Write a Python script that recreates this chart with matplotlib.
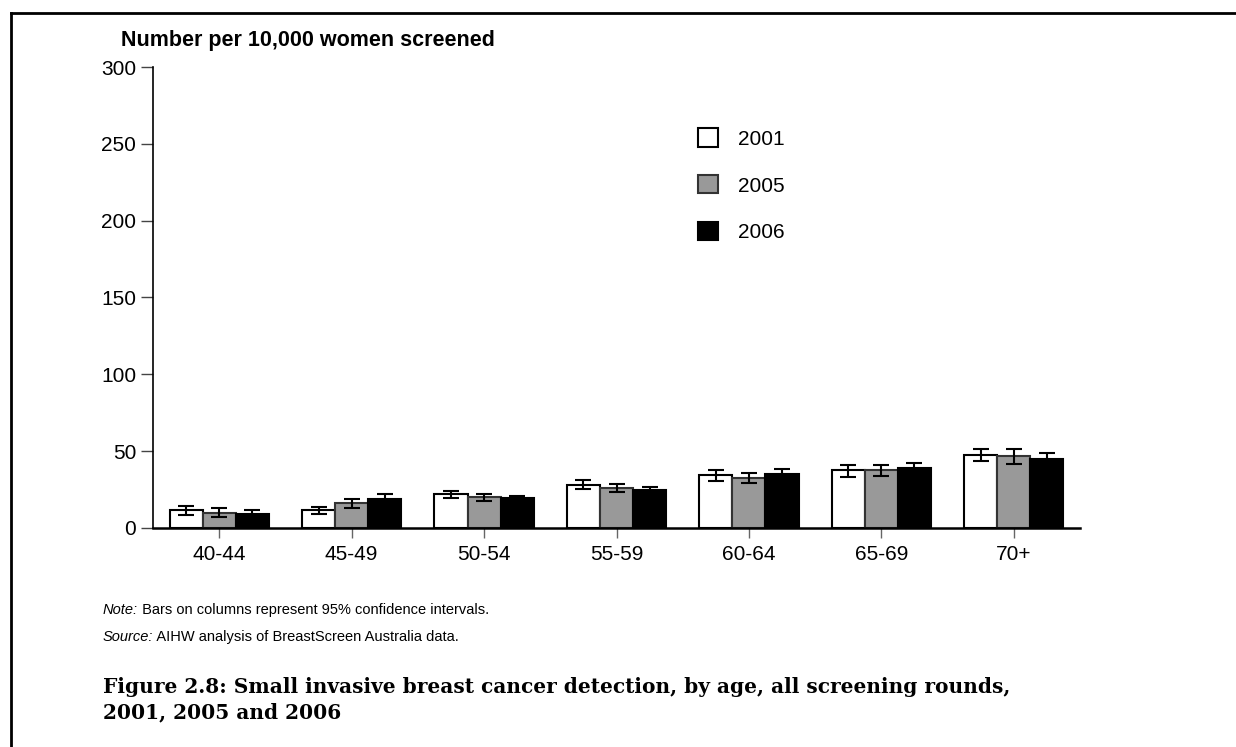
import matplotlib
matplotlib.use("Agg")
import matplotlib.pyplot as plt
from matplotlib.lines import Line2D
import numpy as np

plt.rcParams['font.family'] = ['Liberation Sans', 'DejaVu Sans']

# age groups and detection rates per 10,000 women screened
age_groups = ['40-44', '45-49', '50-54', '55-59', '60-64', '65-69', '70+']
years = ['2001', '2005', '2006']
rate_2001 = [11.9, 11.5, 21.9, 28.2, 34.4, 37.5, 47.7]
rate_2005 = [10.0, 16.0, 20.1, 26.0, 32.5, 37.7, 46.6]
rate_2006 = [9.4, 19.1, 19.3, 24.9, 35.3, 39.0, 44.6]
# 95% confidence intervals
lo_2001 = [8.2, 9.1, 19.5, 25.3, 30.8, 33.1, 43.5]
hi_2001 = [14.3, 13.4, 24.0, 31.0, 37.5, 40.7, 51.3]
lo_2005 = [7.0, 13.0, 17.8, 23.6, 29.5, 33.8, 41.6]
hi_2005 = [13.0, 19.1, 21.9, 28.4, 35.7, 40.7, 51.3]
lo_2006 = [7.1, 16.3, 17.8, 23.2, 32.3, 35.8, 40.2]
hi_2006 = [11.7, 21.9, 20.8, 26.6, 38.3, 42.2, 49.0]

rates = [rate_2001, rate_2005, rate_2006]
lows = [lo_2001, lo_2005, lo_2006]
highs = [hi_2001, hi_2005, hi_2006]
fills = ['white', '#999999', 'black']
edges = ['black', '#333333', 'black']

fig = plt.figure(figsize=(12.36, 7.47), dpi=100)
ax = fig.add_axes([0.1238, 0.2932, 0.75, 0.6171])

x = np.arange(len(age_groups))
w = 0.25
for i in range(3):
    vals = np.array(rates[i])
    err = [vals - np.array(lows[i]), np.array(highs[i]) - vals]
    ax.bar(x + (i - 1) * w, vals, w, color=fills[i], edgecolor=edges[i],
           linewidth=1.5, label=years[i], zorder=2)
    ax.errorbar(x + (i - 1) * w, vals, yerr=err, fmt='none', ecolor='black',
                elinewidth=1.5, capsize=6, capthick=1.5, zorder=3)

ax.set_xlim(-0.5, 6.5)
ax.set_ylim(0, 300)
ax.set_yticks([0, 50, 100, 150, 200, 250, 300])
ax.set_xticks(x)
ax.set_xticklabels(age_groups)
ax.tick_params(axis='y', length=9, width=1, color='#444444', labelsize=15, pad=3)
ax.tick_params(axis='x', length=7, width=1, color='#666666', labelsize=15, pad=5)
ax.spines['top'].set_visible(False)
ax.spines['right'].set_visible(False)
ax.spines['left'].set_linewidth(1.2)
ax.spines['bottom'].set_linewidth(1.8)

ax.legend(loc='upper left', bbox_to_anchor=(0.5647, 0.828),
          bbox_transform=fig.transFigure, frameon=False, fontsize=15,
          handlelength=0.96, handleheight=0.96, handletextpad=0.96,
          labelspacing=1.28, borderpad=0, borderaxespad=0)

fig.text(0.098, 0.946, 'Number per 10,000 women screened', fontsize=15.5,
         fontweight='bold', va='center', ha='left')

# notes: italic lead word followed by plain text
note = fig.text(0.0833, 0.174, 'Note:', fontsize=10.5, style='italic', va='bottom')
src = fig.text(0.0833, 0.138, 'Source:', fontsize=10.5, style='italic', va='bottom')
fig.canvas.draw()
renderer = fig.canvas.get_renderer()
for lead, rest in [(note, ' Bars on columns represent 95% confidence intervals.'),
                   (src, ' AIHW analysis of BreastScreen Australia data.')]:
    bb = lead.get_window_extent(renderer).transformed(fig.transFigure.inverted())
    fig.text(bb.x1, bb.y0, rest, fontsize=10.5, va='bottom')

fig.text(0.0833, 0.063,
         'Figure 2.8: Small invasive breast cancer detection, by age, all screening rounds,\n'
         '2001, 2005 and 2006',
         fontsize=14.5, fontweight='bold', family='DejaVu Serif',
         va='center', ha='left', linespacing=1.35)

# page frame (top and left edges only)
fig.add_artist(Line2D([0.0089, 0.0089], [0, 0.9826], transform=fig.transFigure,
                      color='black', linewidth=2))
fig.add_artist(Line2D([0.0089, 1.0], [0.9826, 0.9826], transform=fig.transFigure,
                      color='black', linewidth=2))

fig.savefig('out.png', dpi=100)
